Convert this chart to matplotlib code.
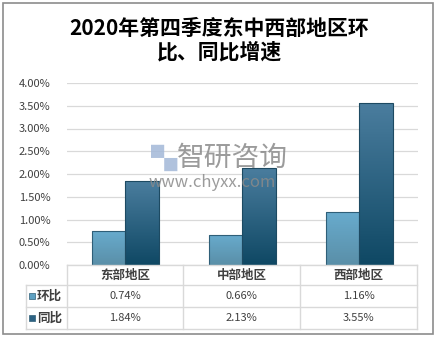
import numpy as np
import matplotlib.pyplot as plt
from matplotlib.lines import Line2D
from matplotlib.patches import Rectangle
from matplotlib.colors import LinearSegmentedColormap

plt.rcParams['font.family'] = ['Noto Sans CJK SC', 'DejaVu Sans']

regions = ["东部地区", "中部地区", "西部地区"]
series_names = ["环比", "同比"]
hb = [0.74, 0.66, 1.16]   # 环比 %
tb = [1.84, 2.13, 3.55]   # 同比 %

W, H = 439, 339
fig = plt.figure(figsize=(W / 100, H / 100), dpi=100)

def fx(px):
    return px / W

def fy(py):
    return 1 - py / H

# plot area in pixel coords
L, R, T, B = 67, 418, 83, 265
ax = fig.add_axes([fx(L), fy(B), fx(R) - fx(L), fy(T) - fy(B)])

x = np.arange(len(regions))
w = 0.29
cmap_light = LinearSegmentedColormap.from_list('l', ['#5a8fa8', '#68abcd'])
cmap_dark = LinearSegmentedColormap.from_list('d', ['#0f4864', '#4a7d9e'])
grad = np.linspace(0, 1, 100).reshape(-1, 1)

bars1 = ax.bar(x - w / 2, hb, w, color='none', edgecolor='#2f5f78', linewidth=0.8, zorder=3)
bars2 = ax.bar(x + w / 2, tb, w, color='none', edgecolor='#1d4a62', linewidth=0.8, zorder=3)
for bars, cm in ((bars1, cmap_light), (bars2, cmap_dark)):
    for b in bars:
        x0, y0 = b.get_x(), b.get_y()
        im = ax.imshow(grad, cmap=cm, origin='lower', aspect='auto',
                       extent=(x0, x0 + b.get_width(), y0, y0 + b.get_height()), zorder=2)
        im.set_clip_path(b)

ax.set_xlim(-0.5, 2.5)
ax.set_ylim(0, 4.0)
ax.set_yticks(np.arange(0, 4.01, 0.5))
ax.set_yticklabels([f"{v:.2f}%" for v in np.arange(0, 4.01, 0.5)],
                   fontsize=8, color='#404040', fontweight='medium')
ax.set_xticks([])
ax.tick_params(axis='y', length=0, pad=12)
ax.grid(axis='y', color='#d9d9d9', linewidth=0.9, zorder=0)
for s in ax.spines.values():
    s.set_visible(False)
ax.set_facecolor('none')

# watermark
fig.text(fx(151), fy(160), "▚", fontsize=19, color='#a3b8d8', alpha=0.85, va='center')
fig.text(fx(177), fy(158), "智研咨询", fontsize=20, color='#8a8a8a', alpha=0.85, va='center')
fig.text(fx(149), fy(183), "www.chyxx.com", fontsize=12, color='#8a8a8a', alpha=0.85,
         va='center')

# data table under the plot
grid_c = '#d9d9d9'
def hline(y, x0, x1):
    fig.add_artist(Line2D([fx(x0), fx(x1)], [fy(y), fy(y)], color=grid_c, lw=1))

def vline(xp, y0, y1):
    fig.add_artist(Line2D([fx(xp), fx(xp)], [fy(y0), fy(y1)], color=grid_c, lw=1))

rows_y = [265, 285, 307, 329]
cols_x = [67, 183, 300, 417]
hline(265, 67, 417)
for y in rows_y[1:]:
    hline(y, 26, 417)
for xp in cols_x:
    vline(xp, 265, 329)
vline(26, 285, 329)

for i, r in enumerate(regions):
    cx = (cols_x[i] + cols_x[i + 1]) / 2
    fig.text(fx(cx), fy(275), r, fontsize=9, color='#404040', ha='center', va='center',
             fontweight='bold')
key_cols = ['#5fa1c2', '#2d6283']
for j, (name, vals) in enumerate(zip(series_names, (hb, tb))):
    cy = (rows_y[j + 1] + rows_y[j + 2]) / 2
    fig.add_artist(Rectangle((fx(29), fy(cy + 3)), fx(6), 6 / H, color=key_cols[j],
                             ec='#2f5f78', lw=0.5))
    fig.text(fx(37), fy(cy), name, fontsize=9, color='#404040', va='center',
             fontweight='bold')
    for i, v in enumerate(vals):
        cx = (cols_x[i] + cols_x[i + 1]) / 2
        fig.text(fx(cx), fy(cy), f"{v:.2f}%", fontsize=8, color='#404040',
                 ha='center', va='center', fontweight='medium')

fig.text(0.5, fy(28), "2020年第四季度东中西部地区环", fontsize=15, fontweight='bold',
         ha='center', va='center', color='black')
fig.text(0.5, fy(52), "比、同比增速", fontsize=15, fontweight='bold',
         ha='center', va='center', color='black')

# outer frame
fig.add_artist(Rectangle((fx(3), fy(334)), fx(430), 331 / H, fill=False,
                         ec='#8c8c8c', lw=1.2))

fig.savefig('out.png', dpi=100)
